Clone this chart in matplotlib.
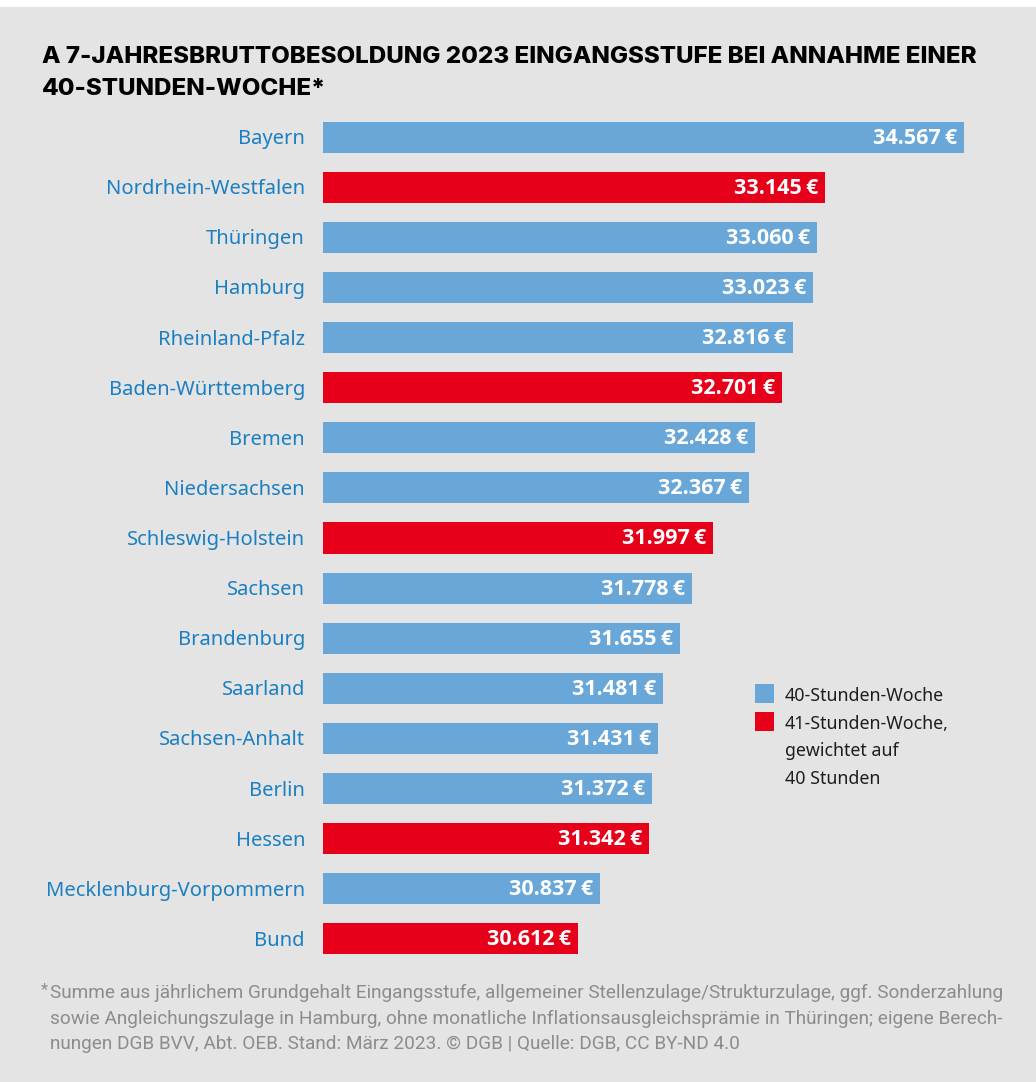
import matplotlib
matplotlib.use("Agg")
import matplotlib.pyplot as plt
from matplotlib.patches import Rectangle

# data
laender = ["Bayern", "Nordrhein-Westfalen", "Thüringen", "Hamburg", "Rheinland-Pfalz",
           "Baden-Württemberg", "Bremen", "Niedersachsen", "Schleswig-Holstein", "Sachsen",
           "Brandenburg", "Saarland", "Sachsen-Anhalt", "Berlin", "Hessen",
           "Mecklenburg-Vorpommern", "Bund"]
werte = [34567, 33145, 33060, 33023, 32816, 32701, 32428, 32367, 31997, 31778,
         31655, 31481, 31431, 31372, 31342, 30837, 30612]
stunden41 = [False, True, False, False, False, True, False, False, True, False,
             False, False, False, False, True, False, True]

BG = "#e3e4e3"
BLUE = "#68a7d8"
RED = "#e60019"
LABEL = "#1b7fc3"
GREY = "#8c8c8c"

W, H = 1036, 1082
fig = plt.figure(figsize=(W / 100, H / 100), dpi=100)
fig.patch.set_facecolor("white")
fig.patches.append(Rectangle((0, 0), 1, 1 - 7 / H, transform=fig.transFigure,
                             facecolor=BG, edgecolor="none", zorder=-10))

def fx(px):
    return px / W

def fy(py):
    return 1 - py / H

ax = fig.add_axes([fx(323), fy(964), fx(683), 852 / H])
ax.set_facecolor("none")
ypos = list(range(len(laender)))
farben = [RED if s else BLUE for s in stunden41]
start = 28000
bars = ax.barh(ypos, [w - start for w in werte], left=start, height=0.62,
               color=farben, edgecolor="none")
ax.set_xlim(28000, 35000)
ax.set_ylim(len(laender) - 0.5, -0.5)
ax.axis("off")

for y, w, name in zip(ypos, werte, laender):
    txt = f"{w:,}".replace(",", ".") + "\u2009€"
    ax.annotate(txt, (w, y), xytext=(-7, -1), textcoords="offset pixels",
                ha="right", va="center", color="white", fontsize=15.5,
                fontweight="bold", family=["Open Sans", "DejaVu Sans"])
    ax.annotate(name, (start, y), xytext=(-18, -2), textcoords="offset pixels",
                ha="right", va="center", color=LABEL, fontsize=14.5,
                family=["Noto Sans", "DejaVu Sans"])

# title
fig.text(fx(42), fy(57), "A 7-JAHRESBRUTTOBESOLDUNG 2023 EINGANGSSTUFE BEI ANNAHME EINER",
         ha="left", va="center", fontsize=17.4, fontweight="heavy", family="Inter", color="black")
fig.text(fx(42), fy(89), "40-STUNDEN-WOCHE*",
         ha="left", va="center", fontsize=17.4, fontweight="heavy", family="Inter", color="black")

# legend
fig.patches.append(Rectangle((fx(755), fy(703)), fx(19), 19 / H, transform=fig.transFigure,
                             facecolor=BLUE, edgecolor="none"))
fig.patches.append(Rectangle((fx(755), fy(731)), fx(19), 19 / H, transform=fig.transFigure,
                             facecolor=RED, edgecolor="none"))
leg_lines = ["40-Stunden-Woche", "41-Stunden-Woche,", "gewichtet auf", "40 Stunden"]
for i, t in enumerate(leg_lines):
    fig.text(fx(785), fy(696 + 27.7 * i), t, ha="left", va="center", fontsize=12.8,
             family="Noto Sans", color="#1e1e1e")

# footnote
fuss = ["Summe aus jährlichem Grundgehalt Eingangsstufe, allgemeiner Stellenzulage/Strukturzulage, ggf. Sonderzahlung",
        "sowie Angleichungszulage in Hamburg, ohne monatliche Inflationsausgleichsprämie in Thüringen; eigene Berech-",
        "nungen DGB BVV, Abt. OEB. Stand: März 2023. © DGB | Quelle: DGB, CC BY-ND 4.0"]
fig.text(fx(41), fy(990), "*", ha="left", va="center", fontsize=12, family="Roboto", color=GREY)
for i, t in enumerate(fuss):
    fig.text(fx(50), fy(993 + 25.5 * i), t, ha="left", va="center", fontsize=13.7,
             family=["Roboto", "DejaVu Sans"], color=GREY)

fig.savefig("out.png", dpi=100, facecolor=fig.get_facecolor())
